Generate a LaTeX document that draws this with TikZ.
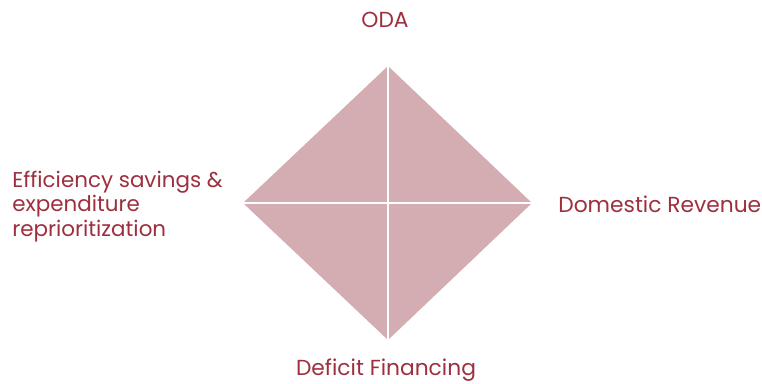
\documentclass[tikz,border=0pt]{standalone}
\usepackage{fontspec}
\setmainfont{Poppins}
\definecolor{labelred}{HTML}{9E2F3E}
\definecolor{diamondfill}{HTML}{D3ADB1}
\tikzset{
  corner/.style={font=\fontsize{12.4}{14}\selectfont, text=labelred, inner sep=0pt},
}
\begin{document}
\begin{tikzpicture}[x=0.02cm,y=-0.02cm]
\useasboundingbox (0,0) rectangle (762,383);
\coordinate (top) at (388,66);
\coordinate (right) at (532,203);
\coordinate (bottom) at (388,340);
\coordinate (left) at (243,203);
\fill[diamondfill] (top) -- (right) -- (bottom) -- (left) -- cycle;
\draw[white, line width=0.8pt] (top) -- (bottom);
\draw[white, line width=0.8pt] (left) -- (right);
\node[corner] (oda) at (385,20) {ODA};
\node[corner, anchor=west] (revenue) at (558,204) {Domestic Revenue};
\node[corner] (deficit) at (386,370) {Deficit Financing};
\node[corner, anchor=west, align=left, font=\fontsize{12.2}{13.9}\selectfont] (efficiency) at (12,206.5) {Efficiency savings \&\\expenditure\\reprioritization};
\end{tikzpicture}
\end{document}
